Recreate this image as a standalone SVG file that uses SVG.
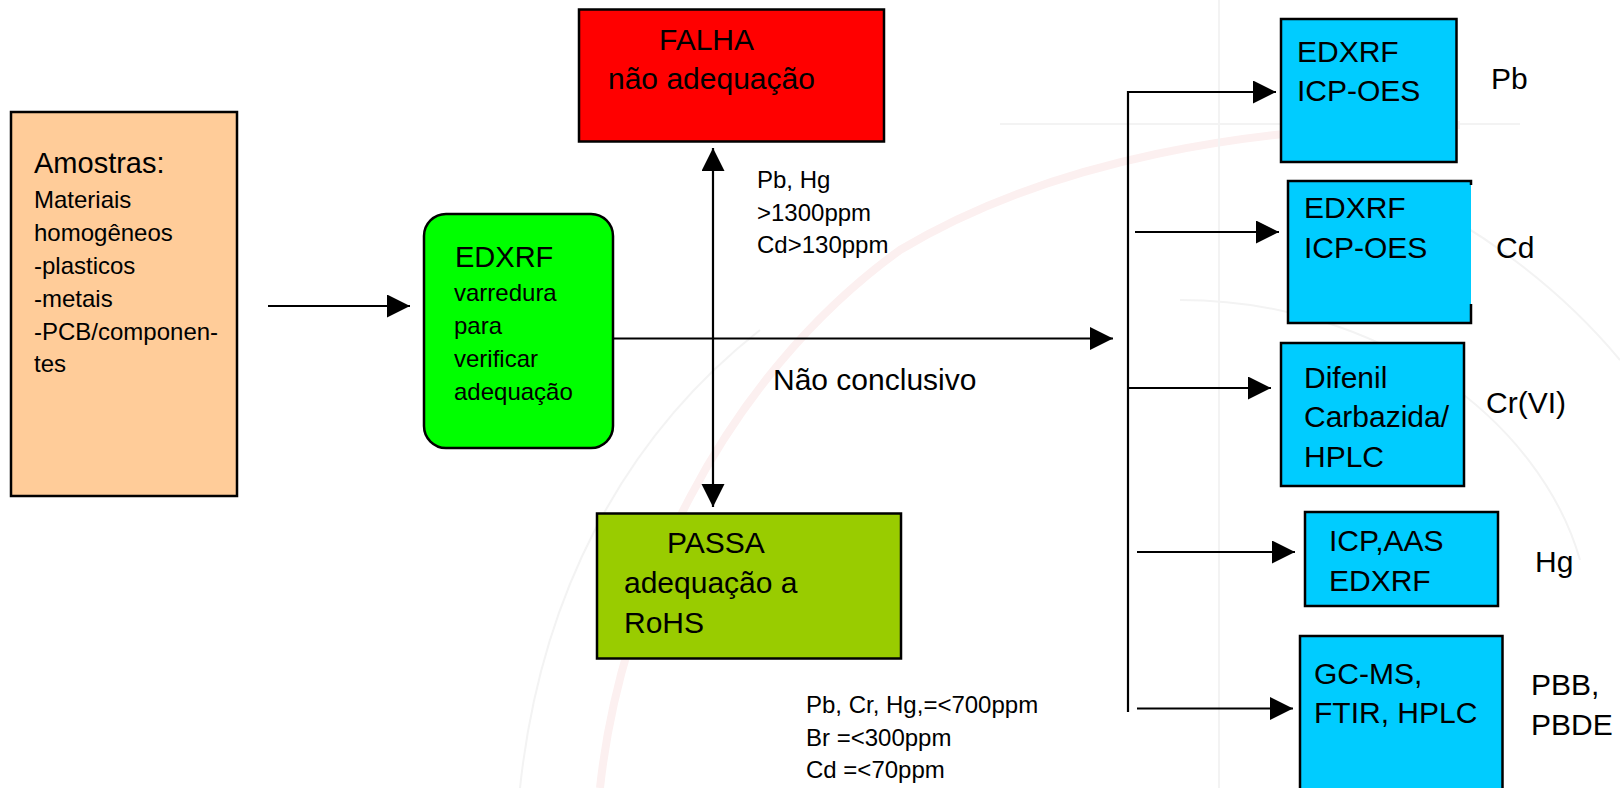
<svg xmlns="http://www.w3.org/2000/svg" width="1620" height="788" viewBox="0 0 1620 788">
<style>
text{font-family:"Liberation Sans",Arial,sans-serif;fill:#000}
.box{stroke:#000;stroke-width:2.5}
.c{stroke:#000;stroke-width:2.2;fill:none}
.f30{font-size:30px}
.f29{font-size:29px}
.f24{font-size:24px}
.wm{fill:none;stroke:#FCF0F0;stroke-width:8}
.wg{fill:none;stroke:#F3F3F3;stroke-width:2}
</style>
<defs>
<marker id="ah" markerUnits="userSpaceOnUse" markerWidth="24" markerHeight="24" refX="23" refY="11.5" orient="auto-start-reverse">
<path d="M0,0 L23,11.5 L0,23 Z" fill="#000"/>
</marker>
</defs>
<rect width="1620" height="788" fill="#fff"/>
<g id="watermark">
<path class="wm" d="M600,788 C620,600 720,380 900,250 C1050,160 1250,125 1460,125"/>
<path class="wg" d="M520,788 C540,600 620,440 760,330"/>
<path class="wg" d="M1180,300 C1380,300 1540,420 1580,560"/>
<path class="wg" d="M1400,190 C1500,240 1570,300 1620,360"/>
<line class="wg" x1="1219" y1="0" x2="1219" y2="788"/>
<line class="wg" x1="1000" y1="124" x2="1520" y2="124"/>
</g>
<g id="amostras">
<rect class="box" x="11" y="112" width="226" height="384" fill="#FFCC99"/>
<text class="f29" x="34" y="173">Amostras:</text>
<text class="f24" x="34" y="207.5">Materiais</text>
<text class="f24" x="34" y="240.5">homogêneos</text>
<text class="f24" x="34" y="273.5">-plasticos</text>
<text class="f24" x="34" y="306.5">-metais</text>
<text class="f24" x="34" y="339.5">-PCB/componen-</text>
<text class="f24" x="34" y="372">tes</text>
</g>
<g id="edxrf-scan">
<rect class="box" x="424" y="214" width="189" height="234" rx="22" fill="#00FF00"/>
<text class="f29" x="455" y="267">EDXRF</text>
<text class="f24" x="454" y="301">varredura</text>
<text class="f24" x="454" y="334">para</text>
<text class="f24" x="454" y="367">verificar</text>
<text class="f24" x="454" y="400">adequação</text>
</g>
<g id="falha">
<rect class="box" x="579" y="9.5" width="305" height="132" fill="#FF0000"/>
<text class="f30" x="659" y="50">FALHA</text>
<text class="f30" x="608" y="89">não adequação</text>
</g>
<g id="passa">
<rect class="box" x="597" y="513.5" width="304" height="145" fill="#99CC00"/>
<text class="f30" x="667" y="553">PASSA</text>
<text class="f30" x="624" y="593">adequação a</text>
<text class="f30" x="624" y="633">RoHS</text>
</g>
<g id="labels">
<text class="f24" x="757" y="188">Pb, Hg</text>
<text class="f24" x="757" y="220.5">&gt;1300ppm</text>
<text class="f24" x="757" y="253">Cd&gt;130ppm</text>
<text class="f30" x="773" y="390">Não conclusivo</text>
<text class="f24" x="806" y="713">Pb, Cr, Hg,=&lt;700ppm</text>
<text class="f24" x="806" y="746">Br =&lt;300ppm</text>
<text class="f24" x="806" y="777.5">Cd =&lt;70ppm</text>
</g>
<g id="pb">
<rect class="box" x="1281" y="19" width="175.5" height="143" fill="#00CCFF"/>
<text class="f30" x="1297" y="62">EDXRF</text>
<text class="f30" x="1297" y="101">ICP-OES</text>
<text class="f30" x="1491" y="89">Pb</text>
</g>
<g id="cd">
<rect x="1288" y="181" width="183" height="142" fill="#00CCFF"/>
<path class="box" fill="none" d="M1471,185 L1471,181 L1288,181 L1288,323 L1471,323 L1471,304"/>
<text class="f30" x="1304" y="218">EDXRF</text>
<text class="f30" x="1304" y="258">ICP-OES</text>
<text class="f30" x="1496" y="258">Cd</text>
</g>
<g id="crvi">
<rect class="box" x="1281" y="343" width="183" height="143" fill="#00CCFF"/>
<text class="f30" x="1304" y="388">Difenil</text>
<text class="f30" x="1304" y="427">Carbazida/</text>
<text class="f30" x="1304" y="467">HPLC</text>
<text class="f30" x="1486" y="413">Cr(VI)</text>
</g>
<g id="hg">
<rect class="box" x="1305" y="512" width="193" height="94" fill="#00CCFF"/>
<text class="f30" x="1329" y="551">ICP,AAS</text>
<text class="f30" x="1329" y="591">EDXRF</text>
<text class="f30" x="1535" y="572">Hg</text>
</g>
<g id="pbb">
<rect class="box" x="1300" y="636" width="202.5" height="170" fill="#00CCFF"/>
<text class="f30" x="1314" y="683.5">GC-MS,</text>
<text class="f30" x="1314" y="722.5">FTIR, HPLC</text>
<text class="f30" x="1531" y="695">PBB,</text>
<text class="f30" x="1531" y="735">PBDE</text>
</g>
<g id="connectors">
<line class="c" x1="268" y1="306" x2="410" y2="306" marker-end="url(#ah)"/>
<line class="c" x1="613" y1="338.5" x2="1113" y2="338.5" marker-end="url(#ah)"/>
<line class="c" x1="713" y1="507" x2="713" y2="148" marker-start="url(#ah)" marker-end="url(#ah)"/>
<line class="c" x1="1128" y1="91" x2="1128" y2="712"/>
<line class="c" x1="1127" y1="92" x2="1276" y2="92" marker-end="url(#ah)"/>
<line class="c" x1="1135" y1="232" x2="1279" y2="232" marker-end="url(#ah)"/>
<line class="c" x1="1128" y1="388" x2="1271" y2="388" marker-end="url(#ah)"/>
<line class="c" x1="1137" y1="552" x2="1295" y2="552" marker-end="url(#ah)"/>
<line class="c" x1="1137" y1="708.5" x2="1293" y2="708.5" marker-end="url(#ah)"/>
</g>
</svg>
